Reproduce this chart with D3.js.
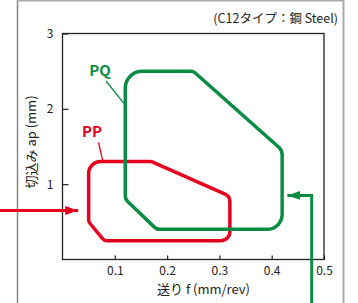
<!DOCTYPE html>
<html lang="ja">
<head>
<meta charset="UTF-8">
<title>切込み・送り</title>
<script src="https://d3js.org/d3.v7.min.js"></script>
<style>
  body { margin: 0; background: #fff; }
  text { font-family: "Noto Sans CJK JP", "Noto Sans", sans-serif; }
</style>
</head>
<body>
<script>
// feed f (mm/rev), depth ap (mm)
const xTicks = [0.1, 0.2, 0.3, 0.4, 0.5];
const yTicks = [1, 2, 3];
const pqF  = [0.12, 0.25, 0.42, 0.42, 0.18, 0.12];
const pqAp = [2.5,  2.5,  1.45, 0.4,  0.4,  0.8];
const ppF  = [0.05, 0.17, 0.32, 0.32, 0.08, 0.05];
const ppAp = [1.3,  1.3,  0.84, 0.25, 0.25, 0.5];

const w = 358, h = 303;
const green = "#0b8c45", red = "#e60020";

const svg = d3.select("body").append("svg").attr("width", w).attr("height", h);

// outer frame
svg.append("line").attr("x1", 17.5).attr("x2", 17.5).attr("y1", 0).attr("y2", h)
  .attr("stroke", "#888").attr("stroke-width", 1.5);
svg.append("line").attr("x1", 17).attr("x2", 344).attr("y1", 0.5).attr("y2", 0.5)
  .attr("stroke", "#aaa").attr("stroke-width", 2);
svg.append("line").attr("x1", 343.5).attr("x2", 343.5).attr("y1", 0).attr("y2", h)
  .attr("stroke", "#aaa").attr("stroke-width", 2);

const x = d3.scaleLinear().domain([0, 0.5]).range([62.5, 324]);
const y = d3.scaleLinear().domain([0, 3]).range([259.5, 33.5]);

// plot box
svg.append("rect").attr("x", x(0)).attr("y", y(3))
  .attr("width", x(0.5) - x(0)).attr("height", y(0) - y(3))
  .attr("fill", "none").attr("stroke", "#222").attr("stroke-width", 1.3);

const tickFont = "'DejaVu Sans', sans-serif";

svg.append("g").attr("transform", `translate(0,${y(0)})`)
  .call(d3.axisBottom(x).tickValues(xTicks).tickSize(-4).tickPadding(7).tickFormat(d3.format(".1f")))
  .call(g => g.select(".domain").remove())
  .call(g => g.selectAll("line").attr("stroke", "#222").attr("stroke-width", 1.2))
  .call(g => g.selectAll("text").attr("font-size", 12).attr("fill", "#222")
    .attr("font-family", tickFont));

svg.append("g").attr("transform", `translate(${x(0)},0)`)
  .call(d3.axisLeft(y).tickValues(yTicks).tickSize(-6).tickPadding(9).tickFormat(d3.format("d")))
  .call(g => g.select(".domain").remove())
  .call(g => g.selectAll("line").attr("stroke", "#222").attr("stroke-width", 1.2))
  .call(g => g.selectAll("text").attr("font-size", 12).attr("fill", "#222")
    .attr("font-family", tickFont));

// axis titles
svg.append("text").attr("x", 157).attr("y", 293.5).attr("font-size", 13).attr("fill", "#222")
  .text("送り f (mm/rev)");
svg.append("text").attr("transform", "translate(36,142) rotate(-90)")
  .attr("text-anchor", "middle").attr("font-size", 13).attr("fill", "#222")
  .text("切込み ap (mm)");
svg.append("text").attr("x", 338).attr("y", 23).attr("text-anchor", "end")
  .attr("font-size", 12.5).attr("fill", "#222").text("(C12タイプ：鋼 Steel)");

// rounded closed outline
function rounded(fs, aps, radii) {
  const pts = fs.map((f, i) => [x(f), y(aps[i])]);
  const n = pts.length;
  const p = d3.path();
  const mid = (a, b) => [(a[0] + b[0]) / 2, (a[1] + b[1]) / 2];
  const start = mid(pts[n - 1], pts[0]);
  p.moveTo(start[0], start[1]);
  for (let i = 0; i < n; i++) {
    const c = pts[i], nx = pts[(i + 1) % n];
    const m = mid(c, nx);
    p.arcTo(c[0], c[1], m[0], m[1], radii[i]);
  }
  p.closePath();
  return p.toString();
}

svg.append("path").attr("d", rounded(ppF, ppAp, [12, 4, 8, 9, 6, 6]))
  .attr("fill", "none").attr("stroke", red).attr("stroke-width", 3.5);
svg.append("path").attr("d", rounded(pqF, pqAp, [17, 6, 10, 15, 8, 8]))
  .attr("fill", "none").attr("stroke", green).attr("stroke-width", 3.5);

// labels
svg.append("text").attr("x", 100).attr("y", 75.5).attr("text-anchor", "middle")
  .attr("font-size", 15).attr("font-weight", "bold").attr("fill", green).text("PQ");
svg.append("line").attr("x1", 106).attr("y1", 81).attr("x2", x(0.12)).attr("y2", y(2.05))
  .attr("stroke", green).attr("stroke-width", 1.3);
svg.append("text").attr("x", 92).attr("y", 136.5).attr("text-anchor", "middle")
  .attr("font-size", 15).attr("font-weight", "bold").attr("fill", red).text("PP");
svg.append("line").attr("x1", 98.5).attr("y1", 142.5).attr("x2", 103).attr("y2", y(1.3))
  .attr("stroke", red).attr("stroke-width", 1.3);

// arrows
const defs = svg.append("defs");
[["ar", red], ["ag", green]].forEach(([id, c]) => {
  defs.append("marker").attr("id", id).attr("viewBox", "0 0 13 9")
    .attr("refX", 13).attr("refY", 4.5).attr("markerWidth", 13).attr("markerHeight", 9)
    .attr("markerUnits", "userSpaceOnUse").attr("orient", "auto")
    .append("path").attr("d", "M0,0L13,4.5L0,9Z").attr("fill", c);
});
svg.append("line").attr("x1", 0).attr("y1", y(0.65)).attr("x2", x(0.03)).attr("y2", y(0.65))
  .attr("stroke", red).attr("stroke-width", 3).attr("marker-end", "url(#ar)");
svg.append("path")
  .attr("d", `M${x(0.4765)},${h + 2}V${y(0.85)}H${x(0.43)}`)
  .attr("fill", "none").attr("stroke", green).attr("stroke-width", 3)
  .attr("marker-end", "url(#ag)");
</script>
</body>
</html>
